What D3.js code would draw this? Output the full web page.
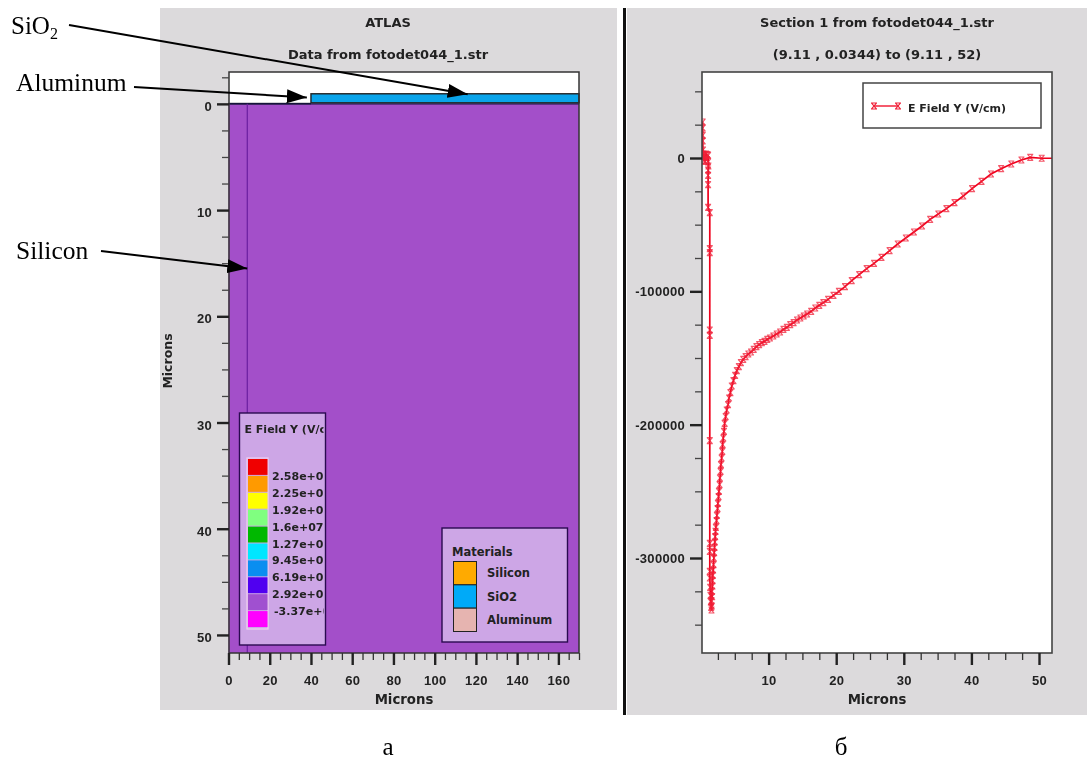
<!DOCTYPE html>
<html>
<head>
<meta charset="utf-8">
<script src="https://cdn.jsdelivr.net/npm/d3@7"></script>
<style>
  html, body { margin: 0; padding: 0; background: #fff; }
  svg { display: block; }
  .ui text { font-family: "Liberation Sans", Arial, sans-serif; font-weight: bold; fill: #222; }
  .ui text.wide { font-family: "DejaVu Sans", Verdana, sans-serif; }
  .note { font-family: "Liberation Serif", "Times New Roman", serif; fill: #000; }
</style>
</head>
<body>
<div id="chart"></div>
<script>
const width = 1087;
const height = 760;

// section 1
// values

// panel a: structure cross section, microns
const layerNames = ['Silicon', 'SiO2', 'Aluminum'];
const layerX0 = [0, 40, 0];
const layerX1 = [170, 170, 40];
const layerY0 = [0, -0.95, -0.1];
const layerY1 = [51.7, -0.1, 0.05];
const sectionLineX = 9.11;

const leftXTicks = [0, 20, 40, 60, 80, 100, 120, 140, 160];
const leftXMinor = [5, 10, 15, 25, 30, 35, 45, 50, 55, 65, 70, 75, 85, 90, 95, 105, 110, 115, 125, 130, 135, 145, 150, 155, 165, 170];
const leftYTicks = [0, 10, 20, 30, 40, 50];
const leftYMinor = [-2.5, 2.5, 5, 7.5, 12.5, 15, 17.5, 22.5, 25, 27.5, 32.5, 35, 37.5, 42.5, 45, 47.5];

const fieldColors = ['#f00000', '#ff9a00', '#ffff00', '#80ff80', '#00b800', '#00e6ff', '#0a8ef0', '#5000f0', '#a050d0', '#ff00ff'];
const fieldLabels = ['2.58e+07', '2.25e+07', '1.92e+07', '1.6e+07', '1.27e+07', '9.45e+06', '6.19e+06', '2.92e+06', '-3.37e+05'];
const materialColors = ['#ffaa00', '#00aaf8', '#e6b4b0'];

// panel b: cut line at x = 9.11
const sectionMicrons = [
  0.25, 0.25, 0.25, 0.25, 0.3, 0.3, 0.35, 0.4, 0.5, 0.6, 0.75, 0.85, 0.95, 1.05, 1.05, 1.1, 1.05, 1.05, 1.05, 1.05,
  1.3, 1.3, 1.3, 1.3, 1.3, 1.3, 1.3, 1.3, 1.3, 1.3, 1.35, 1.4, 1.45, 1.5, 1.55,
  1.6, 1.55, 1.65, 1.6, 1.7, 1.7, 1.75, 1.8, 1.85, 1.9, 1.95, 2.0, 2.05, 2.1, 2.15, 2.2, 2.3, 2.35, 2.45, 2.5,
  2.6, 2.65, 2.75, 2.8, 2.9, 2.95, 3.05, 3.15, 3.2, 3.3, 3.4, 3.5, 3.65, 3.8, 4.0, 4.15, 4.35, 4.55, 4.8, 5.05,
  5.3, 5.6, 5.9, 6.25, 6.6, 7.0, 7.4, 7.8, 8.2, 8.6, 9.0, 9.4, 9.8, 10.2, 10.7, 11.2, 11.7, 12.2, 12.7, 13.2,
  13.7, 14.2, 14.7, 15.2, 15.7, 16.3, 16.9, 17.5, 18.1, 18.8, 19.6, 20.4, 21.3, 22.3, 23.4, 24.5, 25.6, 26.7, 27.9, 29.1,
  30.3, 31.5, 32.7, 33.9, 35.1, 36.3, 37.5, 38.8, 40.1, 41.5, 42.9, 44.4, 45.9, 47.4, 48.7, 50.4
];
const sectionField = [
  27000, 22500, 17000, 12800, 6000, 1000, 3000, -2000, 2500, -2500, 3000, -1500, 2500, -3000, 2000, -6000, -9000, -13000, -20000, -37000,
  -41000, -68000, -71000, -129000, -133000, -212000, -289000, -295000, -310000, -315000, -322000, -328000, -333000, -337000, -339000,
  -336000, -332000, -329000, -325000, -321000, -317000, -313000, -309000, -305000, -300000, -296000, -292000, -288000, -284000, -280000, -277000, -272000, -268000, -263000, -259000,
  -254000, -250000, -245000, -240000, -235000, -230000, -225000, -220000, -215000, -210000, -205000, -199000, -194000, -189000, -185000, -180000, -176000, -171000, -167000, -163000,
  -159500, -156500, -153500, -151000, -149000, -147000, -145500, -143500, -141500, -140000, -138500, -137500, -136000, -135000, -133500, -132000, -130500, -128500, -127000, -125000,
  -123500, -121500, -120000, -118500, -117000, -115000, -112500, -110500, -108500, -106000, -103000, -100000, -96500, -92000, -87500, -83000, -79000, -74500, -69500, -64500,
  -60000, -55500, -51000, -46000, -42000, -38000, -33500, -28500, -23000, -17500, -12000, -8000, -4500, -1500, 500, -200
];
const rightXTicks = [10, 20, 30, 40, 50];
const rightXMinor = [2.5, 5, 7.5, 12.5, 15, 17.5, 22.5, 25, 27.5, 32.5, 35, 37.5, 42.5, 45, 47.5];
const rightYTicks = [0, -100000, -200000, -300000];
const rightYMinor = [50000, 25000, -25000, -50000, -75000, -125000, -150000, -175000, -225000, -250000, -275000, -325000, -350000];

// section 2
// page and panels

const svg = d3.select('#chart').append('svg')
  .attr('width', width)
  .attr('height', height);

const defs = svg.append('defs');
defs.append('clipPath').attr('id', 'fieldClip')
  .append('rect').attr('x', 239).attr('y', 413).attr('width', 84.5).attr('height', 232);
defs.append('clipPath').attr('id', 'plotClip')
  .append('rect').attr('x', 702).attr('y', 72).attr('width', 350).attr('height', 581);
defs.append('marker').attr('id', 'head')
  .attr('viewBox', '0 0 20 14').attr('refX', 20).attr('refY', 7)
  .attr('markerUnits', 'userSpaceOnUse')
  .attr('markerWidth', 20).attr('markerHeight', 14).attr('orient', 'auto')
  .append('path').attr('d', 'M0,0L20,7L0,14Z').attr('fill', '#000');

const ui = svg.append('g').attr('class', 'ui').style('filter', 'blur(0.45px)');

ui.append('rect').attr('x', 160).attr('y', 8).attr('width', 457).attr('height', 702).attr('fill', '#dcdadc');
ui.append('rect').attr('x', 627).attr('y', 8).attr('width', 460).attr('height', 707).attr('fill', '#dcdadc');
ui.append('rect').attr('x', 623).attr('y', 8).attr('width', 3).attr('height', 707).attr('fill', '#111');

function title(x, y, txt) {
  ui.append('text').attr('class', 'wide').attr('x', x).attr('y', y).attr('text-anchor', 'middle')
    .style('font-size', '13px').text(txt);
}
title(388, 27, 'ATLAS');
title(388, 59, 'Data from fotodet044_1.str');
title(877, 27, 'Section 1 from fotodet044_1.str');
title(877, 59, '(9.11 , 0.0344) to (9.11 , 52)');

function axes(g, xScale, yScale, xT, xM, yT, yM, yLabelShift, bottom, left) {
  // the tool writes a plain hyphen in front of negative numbers
  const fmt = d => String(d);
  const xMinor = g.append('g').attr('transform', `translate(0,${bottom})`)
    .call(d3.axisBottom(xScale).tickValues(xM).tickSize(7).tickFormat(''));
  const xMajor = g.append('g').attr('transform', `translate(0,${bottom})`)
    .call(d3.axisBottom(xScale).tickValues(xT).tickSize(12).tickPadding(11).tickFormat(fmt));
  const yMinor = g.append('g').attr('transform', `translate(${left},0)`)
    .call(d3.axisLeft(yScale).tickValues(yM).tickSize(7).tickFormat(''));
  const yMajor = g.append('g').attr('transform', `translate(${left},0)`)
    .call(d3.axisLeft(yScale).tickValues(yT).tickSize(12).tickPadding(5).tickFormat(fmt));
  [xMinor, xMajor, yMinor, yMajor].forEach(a => {
    a.select('.domain').remove();
    a.selectAll('text').style('font-size', '13px').style('letter-spacing', '0.3px').attr('fill', null);
    a.attr('font-family', null).attr('font-size', null);
  });
  yMajor.selectAll('text').attr('dy', null).attr('y', yLabelShift + 4.5);
  xMinor.selectAll('line').attr('stroke', '#333').attr('stroke-width', 1.3);
  yMinor.selectAll('line').attr('stroke', '#444').attr('stroke-width', 1.3);
  xMajor.selectAll('line').attr('stroke', '#222').attr('stroke-width', 2.4);
  yMajor.selectAll('line').attr('stroke', '#222').attr('stroke-width', 2.4);
}

// section 3
// panel a

const xLeft = d3.scaleLinear().domain([0, 170]).range([228.5, 579]);
const yLeft = d3.scaleLinear().domain([-3, 51.7]).range([72, 653]);

const a = ui.append('g');
a.append('rect').attr('x', 229).attr('y', 72).attr('width', 350).attr('height', 581).attr('fill', '#fff');

const layers = layerNames.map((name, i) => ({ name, x0: layerX0[i], x1: layerX1[i], y0: layerY0[i], y1: layerY1[i] }));
a.selectAll('.layer').data(layers).join('rect')
  .attr('class', 'layer')
  .attr('x', d => xLeft(d.x0))
  .attr('y', d => yLeft(d.y0))
  .attr('width', d => xLeft(d.x1) - xLeft(d.x0))
  .attr('height', d => yLeft(d.y1) - yLeft(d.y0))
  .attr('fill', d => d.name === 'Silicon' ? '#a34fc9' : d.name === 'SiO2' ? '#0aa4ea' : '#1a1a2a')
  .attr('stroke', d => d.name === 'SiO2' ? '#222' : 'none')
  .attr('stroke-width', 1.4);

a.append('line')
  .attr('x1', xLeft(0)).attr('x2', xLeft(170))
  .attr('y1', yLeft(0)).attr('y2', yLeft(0))
  .attr('stroke', '#141440').attr('stroke-width', 1.4);
a.append('line')
  .attr('x1', xLeft(sectionLineX)).attr('x2', xLeft(sectionLineX))
  .attr('y1', yLeft(0)).attr('y2', yLeft(51.7))
  .attr('stroke', '#6a1fa0').attr('stroke-width', 1.2);

a.append('rect').attr('x', 229).attr('y', 72).attr('width', 350).attr('height', 581)
  .attr('fill', 'none').attr('stroke', '#333').attr('stroke-width', 1.5);
axes(a, xLeft, yLeft, leftXTicks, leftXMinor, leftYTicks, leftYMinor, 2, 653, 229);

a.append('text').attr('class', 'wide').attr('x', 404).attr('y', 704).attr('text-anchor', 'middle')
  .style('font-size', '13.3px').text('Microns');
a.append('text').attr('class', 'wide').attr('transform', 'translate(172,361) rotate(-90)').attr('text-anchor', 'middle')
  .style('font-size', '12.5px').text('Microns');

// field legend
const fieldBox = a.append('g');
fieldBox.append('rect').attr('x', 239.5).attr('y', 413).attr('width', 86).attr('height', 232)
  .attr('fill', '#cda6e6').attr('stroke', '#2a0a50').attr('stroke-width', 1.4);
const bandField = d3.scaleBand().domain(d3.range(fieldColors.length)).range([459, 628]);
fieldBox.append('rect').attr('x', 247).attr('y', 458).attr('width', 21).attr('height', 171)
  .attr('fill', 'none').attr('stroke', '#f0d0f0').attr('stroke-width', 1.2);
fieldBox.selectAll('.swatch').data(fieldColors).join('rect')
  .attr('class', 'swatch')
  .attr('x', 248).attr('width', 19.5)
  .attr('y', (d, i) => bandField(i))
  .attr('height', bandField.bandwidth() - 1)
  .attr('fill', d => d);
const fieldText = fieldBox.append('g').attr('clip-path', 'url(#fieldClip)');
fieldText.append('text').attr('class', 'wide').attr('x', 244.5).attr('y', 433).style('font-size', '11px').text('E Field Y (V/cm)');
fieldText.selectAll('.lab').data(fieldLabels).join('text')
  .attr('class', 'lab wide')
  .attr('x', (d, i) => d[0] === '-' ? 274 : 272)
  .attr('y', (d, i) => bandField(i) + bandField.bandwidth() + 4)
  .style('font-size', '11px')
  .text(d => d);

// materials legend
const matBox = a.append('g');
matBox.append('rect').attr('x', 442).attr('y', 528).attr('width', 125.5).attr('height', 114)
  .attr('fill', '#cda6e6').attr('stroke', '#2a0a50').attr('stroke-width', 1.4);
matBox.append('text').attr('class', 'wide').attr('x', 452).attr('y', 556).style('font-size', '11.5px').text('Materials');
const bandMat = d3.scaleBand().domain(d3.range(materialColors.length)).range([561.5, 631.5]);
matBox.selectAll('.mat').data(materialColors).join('rect')
  .attr('class', 'mat')
  .attr('x', 453.5).attr('width', 23)
  .attr('y', (d, i) => bandMat(i))
  .attr('height', bandMat.bandwidth())
  .attr('fill', d => d).attr('stroke', '#222').attr('stroke-width', 1);
matBox.selectAll('.matlab').data(layerNames).join('text')
  .attr('class', 'matlab wide')
  .attr('x', 487)
  .attr('y', (d, i) => bandMat(i) + bandMat.bandwidth() / 2 + 4)
  .style('font-size', '11.5px')
  .text(d => d);

// section 4
// panel b

const xRight = d3.scaleLinear().domain([0, 50]).range([701, 1039]);
const yRight = d3.scaleLinear().domain([0, -300000]).range([158, 558]);

const b = ui.append('g');
b.append('rect').attr('x', 702).attr('y', 72).attr('width', 350).attr('height', 581)
  .attr('fill', '#fff');

const points = sectionMicrons.map((x, i) => ({ x, y: sectionField[i] }));
const line = d3.line().x(d => xRight(d.x)).y(d => yRight(d.y));
const curve = b.append('g').attr('clip-path', 'url(#plotClip)');

// no marker on the last stretch up to 52 microns
curve.append('path')
  .attr('d', line(points.concat([{ x: 52, y: -200 }])))
  .attr('fill', 'none').attr('stroke', '#f0001c').attr('stroke-width', 1.7);

const markerPath = 'M-3,-3H3M-3,3H3M-2.4,-2.8L2.4,2.8M2.4,-2.8L-2.4,2.8';
curve.selectAll('.pt').data(points).join('path')
  .attr('class', 'pt')
  .attr('d', markerPath)
  .attr('transform', d => `translate(${xRight(d.x)},${yRight(d.y)})`)
  .attr('fill', 'none').attr('stroke', '#f02038').attr('stroke-width', 1.2).attr('opacity', 0.75);

b.append('rect').attr('x', 702).attr('y', 72).attr('width', 350).attr('height', 581)
  .attr('fill', 'none').attr('stroke', '#444').attr('stroke-width', 1.6);
axes(b, xRight, yRight, rightXTicks, rightXMinor, rightYTicks, rightYMinor, 0, 653, 702);

b.append('text').attr('class', 'wide').attr('x', 877).attr('y', 704).attr('text-anchor', 'middle')
  .style('font-size', '13.3px').text('Microns');

const legend = b.append('g');
legend.append('rect').attr('x', 863).attr('y', 83).attr('width', 178).attr('height', 45)
  .attr('fill', '#fff').attr('stroke', '#444').attr('stroke-width', 1.5);
legend.append('line').attr('x1', 874).attr('x2', 898).attr('y1', 106).attr('y2', 106)
  .attr('stroke', '#f0001c').attr('stroke-width', 1.3);
[874, 898].forEach(px => {
  legend.append('path').attr('d', markerPath).attr('transform', `translate(${px},106)`)
    .attr('fill', 'none').attr('stroke', '#f02038').attr('stroke-width', 1.1);
});
legend.append('text').attr('class', 'wide').attr('x', 908).attr('y', 112).style('font-size', '11px').text('E Field Y (V/cm)');

// section 5
// annotations on top of the screenshots

const notes = svg.append('g');

function arrow(x1, y1, x2, y2) {
  notes.append('line')
    .attr('x1', x1).attr('y1', y1).attr('x2', x2).attr('y2', y2)
    .attr('stroke', '#000').attr('stroke-width', 2)
    .attr('marker-end', 'url(#head)');
}
arrow(69, 25, xLeft(116), yLeft(-0.9));
arrow(134, 87, xLeft(38), yLeft(-0.6));
arrow(101, 251, xLeft(9.11), yLeft(15.5));

const siO2 = notes.append('text').attr('class', 'note').attr('x', 11).attr('y', 34).style('font-size', '25px');
siO2.append('tspan').text('SiO');
siO2.append('tspan').attr('dy', 5).style('font-size', '16px').text('2');
notes.append('text').attr('class', 'note').attr('x', 16).attr('y', 91).style('font-size', '25.5px').text('Aluminum');
notes.append('text').attr('class', 'note').attr('x', 16).attr('y', 259).style('font-size', '25.5px').text('Silicon');
notes.append('text').attr('class', 'note').attr('x', 388).attr('y', 755).attr('text-anchor', 'middle').style('font-size', '25px').text('а');
notes.append('text').attr('class', 'note').attr('x', 841).attr('y', 755).attr('text-anchor', 'middle').style('font-size', '25px').text('б');
</script>
</body>
</html>
